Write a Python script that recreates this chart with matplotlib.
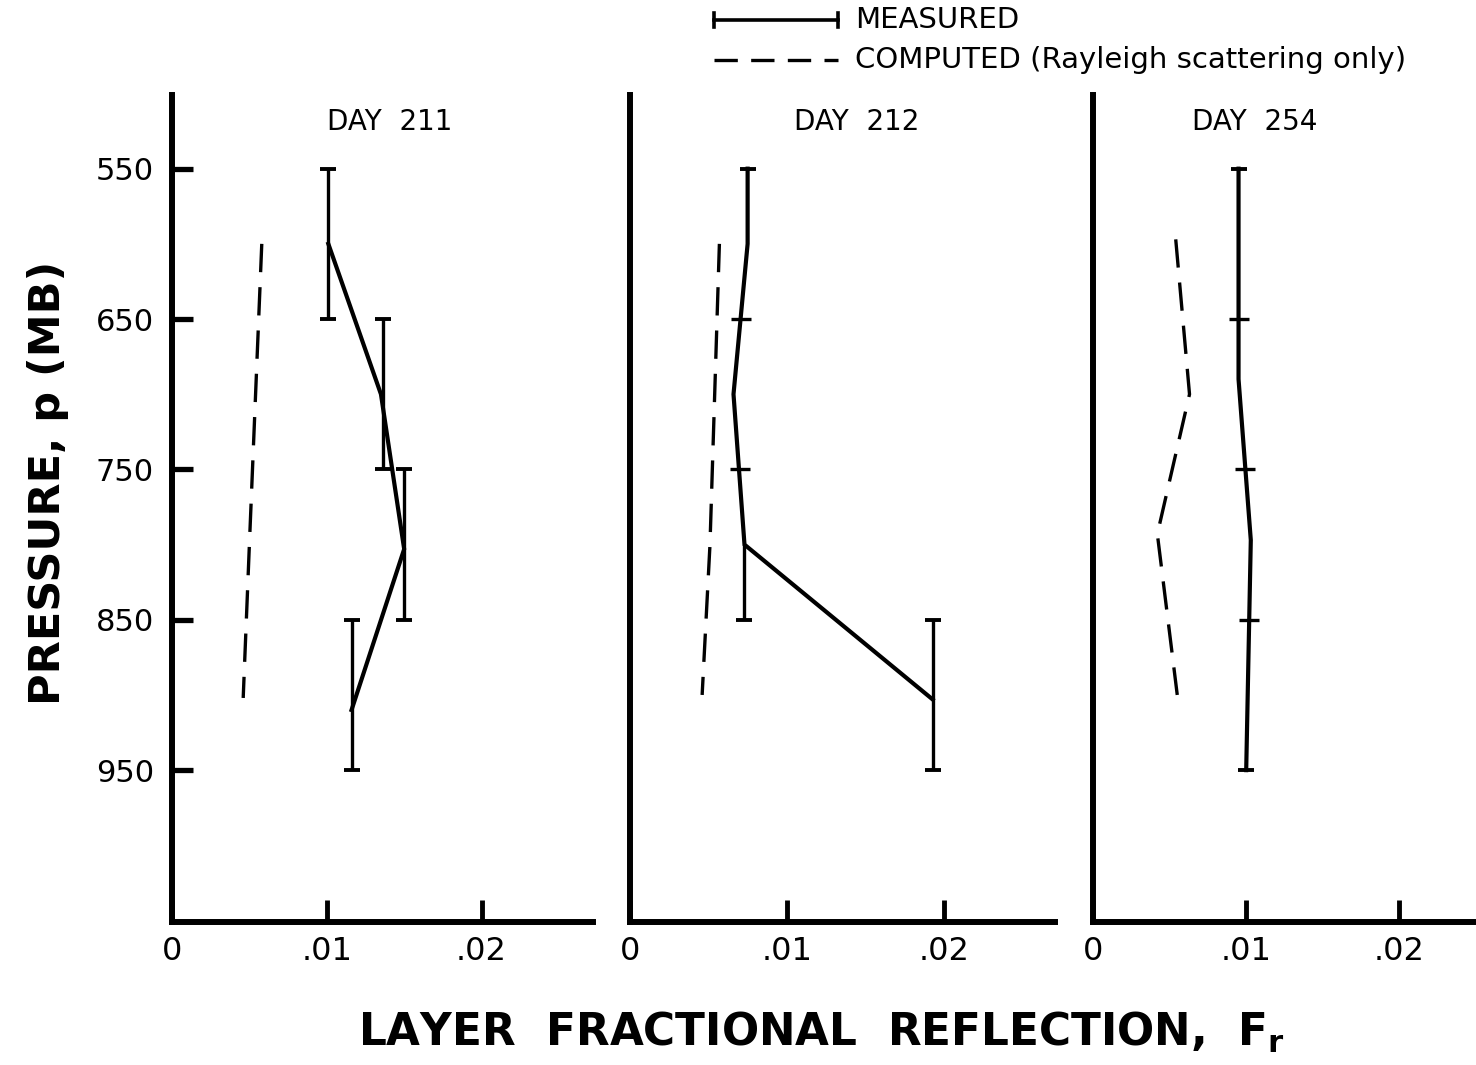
import matplotlib.pyplot as plt
from matplotlib.lines import Line2D

plt.rcParams['font.family'] = ['DejaVu Sans']
plt.rcParams['mathtext.default'] = 'regular'

W, H = 1476, 1065

p_ticks = [550, 650, 750, 850, 950]
f_ticks = [0, 0.01, 0.02]
f_labels = ['0', '.01', '.02']
day_names = ['DAY  211', 'DAY  212', 'DAY  254']

# Day 211: measured profile, layer error bars, Rayleigh-only calculation
d211_line_F = [0.0101, 0.0135, 0.0150, 0.0116]
d211_line_p = [600, 700, 803, 910]
d211_bar_F = [0.0101, 0.0136, 0.0150, 0.0116]
d211_bar_top = [550, 650, 750, 850]
d211_bar_bot = [650, 750, 850, 950]
d211_cap_F = [0.0101, 0.0101, 0.0136, 0.0136, 0.0150, 0.0150, 0.0116, 0.0116]
d211_cap_p = [550, 650, 650, 750, 750, 850, 850, 950]
d211_tick_F = []
d211_tick_p = []
d211_calc_F = [0.0058, 0.0054, 0.0050, 0.0046]
d211_calc_p = [600, 700, 800, 902]

# Day 212
d212_line_F = [0.0075, 0.0075, 0.0066, 0.0073, 0.0193]
d212_line_p = [550, 600, 700, 800, 903]
d212_bar_F = [0.0073, 0.0193]
d212_bar_top = [800, 850]
d212_bar_bot = [850, 950]
d212_cap_F = [0.0075, 0.0073, 0.0193, 0.0193]
d212_cap_p = [550, 850, 850, 950]
d212_tick_F = [0.0071, 0.0070]
d212_tick_p = [650, 750]
d212_calc_F = [0.0057, 0.0054, 0.0051, 0.0046]
d212_calc_p = [600, 700, 800, 900]

# Day 254
d254_line_F = [0.0095, 0.0095, 0.0103, 0.0100]
d254_line_p = [550, 690, 797, 950]
d254_bar_F = []
d254_bar_top = []
d254_bar_bot = []
d254_cap_F = [0.0095, 0.0100]
d254_cap_p = [550, 950]
d254_tick_F = [0.0095, 0.0099, 0.0102]
d254_tick_p = [650, 750, 850]
d254_calc_F = [0.0054, 0.0063, 0.0042, 0.0055]
d254_calc_p = [597, 700, 793, 900]

panels = [
    (d211_line_F, d211_line_p, d211_bar_F, d211_bar_top, d211_bar_bot,
     d211_cap_F, d211_cap_p, d211_tick_F, d211_tick_p, d211_calc_F, d211_calc_p),
    (d212_line_F, d212_line_p, d212_bar_F, d212_bar_top, d212_bar_bot,
     d212_cap_F, d212_cap_p, d212_tick_F, d212_tick_p, d212_calc_F, d212_calc_p),
    (d254_line_F, d254_line_p, d254_bar_F, d254_bar_top, d254_bar_bot,
     d254_cap_F, d254_cap_p, d254_tick_F, d254_tick_p, d254_calc_F, d254_calc_p),
]

# axes boxes in pixels: left, right; shared top/bottom
boxes = [(172, 593), (630, 1055), (1093, 1476)]
xmax = [0.0272, 0.0271, 0.0250]
title_x = [0.518, 0.534, 0.423]
top_px, bot_px = 95, 922

fig = plt.figure(figsize=(W / 100, H / 100), dpi=100)

dash = (8.5, 4.5)
for i, (box, data) in enumerate(zip(boxes, panels)):
    lF, lp, bF, bt, bb, cF, cp, tF, tp, kF, kp = data
    ax = fig.add_axes([box[0] / W, 1 - bot_px / H, (box[1] - box[0]) / W,
                       (bot_px - top_px) / H])
    ax.set_xlim(0, xmax[i])
    ax.set_ylim(1051, 501)
    for s in ['top', 'right']:
        ax.spines[s].set_visible(False)
    for s in ['left', 'bottom']:
        ax.spines[s].set_linewidth(4.3)
        ax.spines[s].set_capstyle('projecting')

    ax.plot(lF, lp, color='k', lw=3.0, solid_joinstyle='miter')
    ax.vlines(bF, bt, bb, color='k', lw=2.4)
    ax.plot(cF, cp, ls='none', marker='_', ms=12, mew=2.8, color='k')
    ax.plot(tF, tp, ls='none', marker='_', ms=15, mew=2.4, color='k')
    ax.plot(kF, kp, color='k', lw=2.4, dashes=dash)

    ax.set_xticks(f_ticks)
    ax.set_xticklabels(f_labels)
    ax.tick_params(axis='x', direction='in', length=16, width=3.5, pad=10,
                   labelsize=23)
    if i == 0:
        ax.set_yticks(p_ticks)
        ax.tick_params(axis='y', direction='in', length=15, width=3.8, pad=13,
                       labelsize=22)
    else:
        ax.set_yticks([])
    ax.text(title_x[i], 0.967, day_names[i], transform=ax.transAxes,
            ha='center', va='center', fontsize=20)

fig.text(48 / W, 1 - 483 / H, 'PRESSURE, p (MB)', rotation=90, ha='center',
         va='center', fontsize=31, fontweight='bold')
fig.text(821 / W, 1 - 1046 / H,
         r'LAYER  FRACTIONAL  REFLECTION,  $\mathbf{F}_\mathbf{r}$',
         ha='center', va='baseline', fontsize=31.5, fontweight='bold')

# key in the upper right
x0, x1 = 714 / W, 838 / W
y_m, y_c = 1 - 20 / H, 1 - 60 / H
fig.add_artist(Line2D([x0, x1], [y_m, y_m], color='k', lw=2.6))
fig.add_artist(Line2D([x0, x0], [y_m - 7 / H, y_m + 7 / H], color='k', lw=2.6))
fig.add_artist(Line2D([x1, x1], [y_m - 7 / H, y_m + 7 / H], color='k', lw=2.6))
fig.add_artist(Line2D([x0, x1], [y_c, y_c], color='k', lw=2.4, dashes=(7, 4)))
fig.text(855 / W, y_m, 'MEASURED', ha='left', va='center', fontsize=21)
fig.text(855 / W, y_c, 'COMPUTED (Rayleigh scattering only)', ha='left',
         va='center', fontsize=21)

fig.savefig('out.png', dpi=100)
